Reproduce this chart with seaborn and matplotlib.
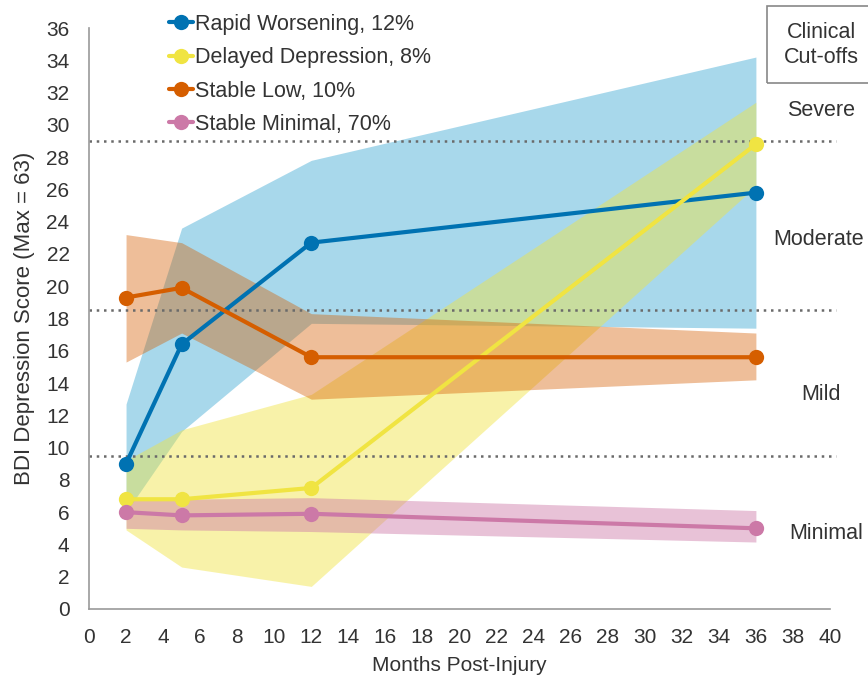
import matplotlib
matplotlib.use("Agg")
import matplotlib.pyplot as plt
from matplotlib.patches import Rectangle
import numpy as np
import pandas as pd
import seaborn as sns

# Assessment times (months post-injury)
months = [2, 5, 12, 36]

# Trajectory groups
groups = ["Rapid Worsening, 12%", "Delayed Depression, 8%",
          "Stable Low, 10%", "Stable Minimal, 70%"]

# Mean BDI score per group and its confidence band
rapid_mean = [9.0, 16.4, 22.7, 25.8]
rapid_lo = [6.0, 11.0, 17.7, 17.4]
rapid_hi = [12.7, 23.6, 27.8, 34.2]

delayed_mean = [6.8, 6.8, 7.5, 28.8]
delayed_lo = [4.9, 2.6, 1.4, 26.2]
delayed_hi = [9.2, 11.1, 13.3, 31.4]

low_mean = [19.3, 19.9, 15.6, 15.6]
low_lo = [15.3, 17.1, 13.0, 14.2]
low_hi = [23.2, 22.7, 18.3, 17.1]

minimal_mean = [6.0, 5.8, 5.9, 5.0]
minimal_lo = [5.0, 4.9, 4.8, 4.15]
minimal_hi = [6.9, 6.8, 6.9, 6.1]

# Clinical cut-offs and severity labels
cutoffs = [9.5, 18.5, 29]
severity_labels = ["Minimal", "Mild", "Moderate", "Severe"]
severity_y = [4.7, 13.3, 22.9, 30.9]
severity_x = [39.8, 39.5, 39.4, 39.5]

x_ticks = list(range(0, 42, 2))
y_ticks = list(range(0, 38, 2))

line_colors = ["#0072B2", "#F0E442", "#D55E00", "#CC79A7"]
band_colors = ["#4AAED6", "#F0E442", "#D55E00", "#CC79A7"]
band_alpha = [0.48, 0.45, 0.4, 0.45]

means = [rapid_mean, delayed_mean, low_mean, minimal_mean]
lows = [rapid_lo, delayed_lo, low_lo, minimal_lo]
highs = [rapid_hi, delayed_hi, low_hi, minimal_hi]

df = pd.DataFrame({
    "Months": months * len(groups),
    "Score": sum(means, []),
    "Trajectory": sum([[g] * len(months) for g in groups], []),
})

sns.set_theme(style="white")
plt.rcParams["font.family"] = ["Liberation Sans", "DejaVu Sans"]

W, H = 868, 681
text_color = "#333333"
fig = plt.figure(figsize=(W / 100, H / 100), dpi=100)
ax = fig.add_axes([89 / W, 1 - 609 / H, (830 - 89) / W, (609 - 28) / H])

# Confidence bands
for lo, hi, c, a in zip(lows, highs, band_colors, band_alpha):
    ax.fill_between(months, lo, hi, color=c, alpha=a, linewidth=0, zorder=1)

# Clinical cut-off lines
ax.hlines(cutoffs, 0, 40.3, colors="#6a6a6a", linestyles=(0, (1, 1.9)),
          linewidth=1.8, clip_on=False, zorder=2)

sns.lineplot(data=df, x="Months", y="Score", hue="Trajectory",
             hue_order=groups, palette=line_colors, marker="o",
             markersize=11, markeredgewidth=0, linewidth=3,
             errorbar=None, sort=False, ax=ax, zorder=3)

ax.set_xlim(0, 40)
ax.set_ylim(0, 36)
ax.set_xticks(x_ticks)
ax.set_yticks(y_ticks)
ax.tick_params(axis="both", length=0, labelsize=15, colors=text_color)
ax.tick_params(axis="y", pad=14)
ax.tick_params(axis="x", pad=14)
for side in ["top", "right"]:
    ax.spines[side].set_visible(False)
for side in ["left", "bottom"]:
    ax.spines[side].set_color("#999999")
    ax.spines[side].set_linewidth(1.2)

ax.set_xlabel("Months Post-Injury", fontsize=15, color=text_color, labelpad=6)
ax.set_ylabel("BDI Depression Score (Max = 63)", fontsize=16,
              color=text_color, labelpad=8)

leg = ax.legend(loc="upper left", bbox_to_anchor=(169 / W, 1 - 14 / H),
                bbox_transform=fig.transFigure, frameon=False, fontsize=15.5,
                handlelength=1.1, handletextpad=0.1, labelspacing=0.57,
                borderpad=0, borderaxespad=0)
for t in leg.get_texts():
    t.set_color(text_color)

# Severity labels to the right of the plot
for lab, xv, yv in zip(severity_labels, severity_x, severity_y):
    ax.text(xv, yv, lab, ha="center", va="center", fontsize=15.5,
            color=text_color, clip_on=False)

# Legend box for the clinical cut-offs
fig.patches.append(Rectangle((767 / W, 1 - 83 / H), 120 / W, 77 / H,
                             transform=fig.transFigure, fill=False,
                             edgecolor="#888888", linewidth=1.2))
fig.text(821 / W, 1 - 45 / H, "Clinical\nCut-offs", ha="center", va="center",
         fontsize=15.5, color=text_color, linespacing=1.2)

fig.savefig("out.png", dpi=100)
